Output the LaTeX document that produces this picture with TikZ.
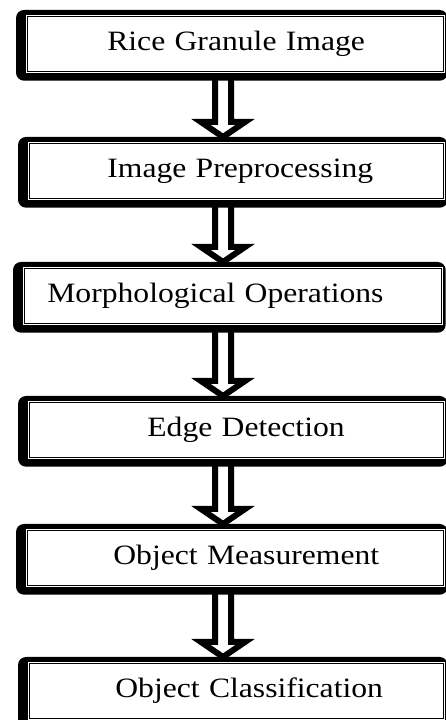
\documentclass[tikz,border=0pt]{standalone}
\usepackage{fontspec}
\setmainfont{Liberation Serif}[FakeStretch=1.13]
\usepackage{tikz}
\usetikzlibrary{calc, backgrounds}
\tikzstyle{stage} = [rectangle, anchor=north west, minimum height=57pt, inner xsep=0pt, align=left, draw=black, line width=0.7pt, double, double distance=1pt, fill=white, font=\fontsize{28}{30}\selectfont]
\tikzstyle{frame} = [fill=black, rounded corners=8pt]
\tikzstyle{arrow} = [draw=black, fill=white, line width=6pt, line join=miter]

\begin{document}
\begin{tikzpicture}[x=1pt, y=1pt]
   \useasboundingbox (0,0) rectangle (446,720);
   \coordinate (axis) at (223,0);
   \node (img) [stage, text width=418pt] at (26,705) {\hspace*{81pt}Rice Granule Image};
   \node (pre) [stage, text width=416pt] at (28,578) {\hspace*{79pt}Image Preprocessing};
   \node (morph) [stage, text width=419pt] at (23,453) {\hspace*{24pt}Morphological Operations};
   \node (edge) [stage, text width=416pt] at (28,319) {\hspace*{119pt}Edge Detection};
   \node (meas) [stage, text width=418pt] at (26,191) {\hspace*{87pt}Object Measurement};
   \node (cls) [stage, text width=416pt] at (28,58) {\hspace*{87pt}Object Classification};
   \begin{scope}[on background layer]
   \foreach \a/\b in {img/pre, pre/morph, morph/edge, edge/meas, meas/cls}
      \path [arrow] ($(\a.south -| axis)+(-8,0)$) -- ($(\b.north -| axis)+(-8,20)$)
         -- ($(\b.north -| axis)+(-22,20)$) -- ($(\b.north -| axis)+(0,5)$)
         -- ($(\b.north -| axis)+(22,20)$) -- ($(\b.north -| axis)+(8,20)$)
         -- ($(\a.south -| axis)+(8,0)$);
   \foreach \n in {img, pre, morph, edge, meas, cls}
      \path [frame] ([shift={(-10,-8)}]\n.south west) rectangle ([shift={(3,5)}]\n.north east);
   \end{scope}
\end{tikzpicture}
\end{document}
